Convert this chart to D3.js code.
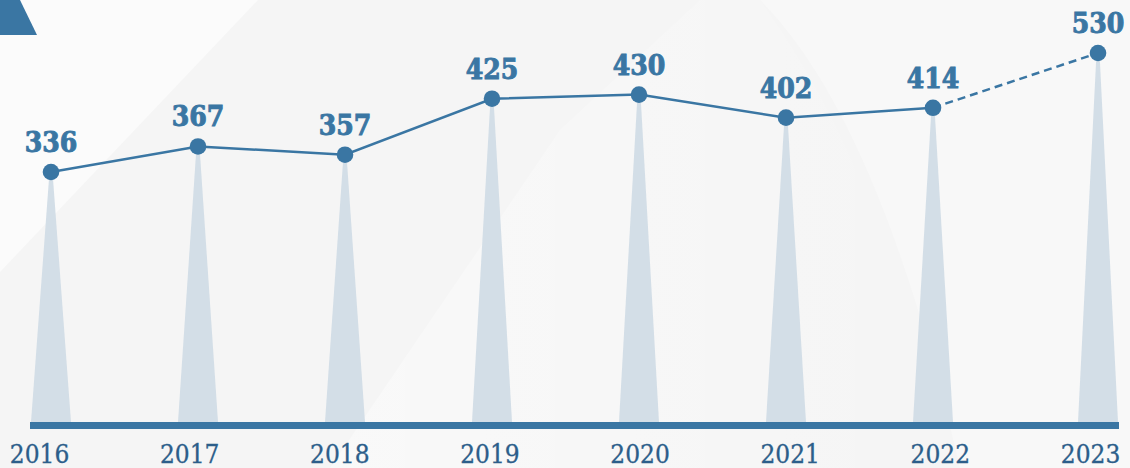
<!DOCTYPE html>
<html>
<head>
<meta charset="utf-8">
<script src="https://cdn.jsdelivr.net/npm/d3@7"></script>
<style>
  html, body { margin: 0; padding: 0; background: #f5f5f5; }
  svg { display: block; }
  .val { font-family: "DejaVu Serif Condensed", "DejaVu Serif", serif; font-weight: bold; font-size: 28px; fill: #3a76a3; stroke: #3a76a3; stroke-width: 0.9px; }
  .yr text { font-family: "DejaVu Serif Condensed", "DejaVu Serif", serif; font-size: 26px; fill: #2c5e8a; stroke: #2c5e8a; stroke-width: 0.3px; }
</style>
</head>
<body>
<div id="chart"></div>
<script>
var years = [2016, 2017, 2018, 2019, 2020, 2021, 2022, 2023];
var values = [336, 367, 357, 425, 430, 402, 414, 530];
var projected = [false, false, false, false, false, false, false, true];

var width = 1130,
    height = 468,
    baseY = 422,
    blue = "#3a76a3";

// the last (projected) year sits a bit further out, so the scales are piecewise
var x = d3.scaleLinear().domain([2016, 2022, 2023]).range([51, 933, 1098]);
var y = d3.scaleLinear().domain([336, 430, 530]).range([172, 94.6, 53]);
var xLabel = d3.scalePoint().domain(years).range([39, 1090]);

var data = years.map(function(d, i) {
    return { year: d, value: values[i], projected: projected[i] };
});

var svg = d3.select("#chart").append("svg")
    .attr("width", width)
    .attr("height", height);

// background
var defs = svg.append("defs");
var g1 = defs.append("linearGradient").attr("id", "sweep").attr("x1", 0).attr("y1", 0).attr("x2", 1).attr("y2", 0);
g1.append("stop").attr("offset", "0%").attr("stop-color", "#ffffff").attr("stop-opacity", 0.8);
g1.append("stop").attr("offset", "100%").attr("stop-color", "#ffffff").attr("stop-opacity", 0);

svg.append("rect").attr("width", width).attr("height", height).attr("fill", "#f5f5f5");
svg.append("path").attr("d", "M0,0 L258,0 L0,272 Z").attr("fill", "#fbfbfb");
svg.append("path").attr("d", "M330,468 L560,130 L700,0 L760,0 Q860,140 900,300 L930,468 Z")
    .attr("fill", "url(#sweep)").attr("opacity", 0.5);
svg.append("path").attr("d", "M760,0 Q880,120 960,468 L1130,468 L1130,0 Z").attr("fill", "#f8f8f8");
svg.append("path").attr("d", "M0,35 L0,0 L20,0 L37,35 Z").attr("fill", blue);

// spikes
svg.selectAll(".spike")
    .data(data)
    .enter().append("path")
    .attr("class", "spike")
    .attr("fill", "#d3dee7")
    .attr("d", function(d) {
        var cx = x(d.year), cy = y(d.value);
        return "M" + (cx - 1.5) + "," + cy + " L" + (cx + 1.5) + "," + cy +
            " L" + (cx + 20) + "," + baseY + " L" + (cx - 20) + "," + baseY + " Z";
    });

// baseline
svg.append("rect")
    .attr("x", 30).attr("y", baseY)
    .attr("width", 1089).attr("height", 7)
    .attr("fill", blue);

// line
var line = d3.line()
    .x(function(d) { return x(d.year); })
    .y(function(d) { return y(d.value); });

var actual = data.filter(function(d) { return !d.projected; });
var proj = data.slice(data.length - 2);

svg.append("path")
    .datum(actual)
    .attr("d", line)
    .attr("fill", "none")
    .attr("stroke", blue)
    .attr("stroke-width", 2.5);

svg.append("path")
    .datum(proj)
    .attr("d", line)
    .attr("fill", "none")
    .attr("stroke", blue)
    .attr("stroke-width", 2.5)
    .attr("stroke-dasharray", "8,5");

svg.selectAll(".dot")
    .data(data)
    .enter().append("circle")
    .attr("class", "dot")
    .attr("cx", function(d) { return x(d.year); })
    .attr("cy", function(d) { return y(d.value); })
    .attr("r", 8.3)
    .attr("fill", blue);

svg.selectAll(".val")
    .data(data)
    .enter().append("text")
    .attr("class", "val")
    .attr("text-anchor", "middle")
    .attr("x", function(d) { return x(d.year); })
    .attr("y", function(d) { return y(d.value) - 20; })
    .text(function(d) { return d.value; });

// year axis
var axis = svg.append("g")
    .attr("class", "yr")
    .attr("transform", "translate(0," + 463 + ")")
    .call(d3.axisBottom(xLabel).tickSize(0).tickPadding(0).tickFormat(d3.format("d")));
axis.select(".domain").remove();
axis.selectAll("text").attr("dy", 0).attr("y", 0);
</script>
</body>
</html>
